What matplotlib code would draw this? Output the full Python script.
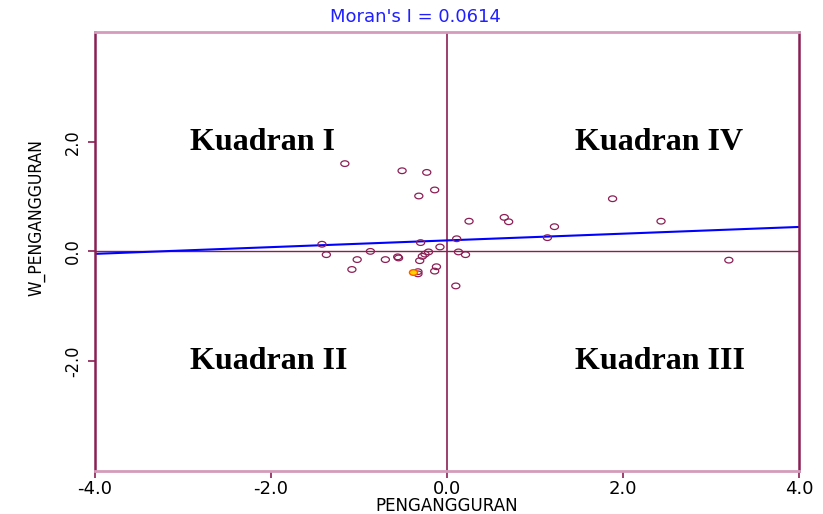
import numpy as np
from matplotlib import pyplot as plt
from matplotlib.path import Path

# standardized values
pengangguran = [-1.16, -0.51, -0.23, -0.14, -0.32, 0.25, -1.42, -1.37, -0.87, -1.02,
                -1.08, -0.70, -0.56, -0.55, -0.30, -0.08, -0.21, -0.25, -0.28, -0.31,
                -0.33, -0.33, -0.12, -0.14, 0.11, 0.13, 0.21, 0.10, 1.88, 2.43,
                3.20, 0.65, 0.70, 1.22, 1.14]
w_pengangguran = [1.60, 1.47, 1.44, 1.12, 1.01, 0.55, 0.13, -0.06, 0.00, -0.15,
                  -0.33, -0.15, -0.10, -0.12, 0.16, 0.08, -0.01, -0.05, -0.09, -0.17,
                  -0.37, -0.41, -0.28, -0.36, 0.23, -0.01, -0.06, -0.63, 0.96, 0.55,
                  -0.16, 0.62, 0.54, 0.45, 0.25]
selected_x = [-0.39]
selected_y = [-0.38]

moran_i = 0.0614
intercept = 0.20
quadrants = ["Kuadran I", "Kuadran IV", "Kuadran II", "Kuadran III"]
quad_x = [-2.92, 1.45, -2.92, 1.45]
quad_y = [1.98, 1.98, -2.0, -2.0]

maroon = '#8b1f55'
pink = '#d49cba'

# flat ellipse marker like GeoDa's
t = np.linspace(0, 2 * np.pi, 40)
ellipse = Path(np.column_stack([np.cos(t), 0.7 * np.sin(t)]), closed=True)

fig = plt.figure(figsize=(8.23, 5.14), dpi=100)
ax = fig.add_axes([0.1151, 0.0842, 0.8561, 0.8535])

ax.set_xlim(-4, 4)
ax.set_ylim(-4, 4)

ax.axhline(0, color=maroon, lw=1, zorder=1)
ax.axvline(0, color=maroon, lw=1.2, zorder=1)

xs = np.array([-4, 4])
ax.plot(xs, intercept + moran_i * xs, color='#0000ff', lw=1.5, zorder=2)

ax.scatter(pengangguran, w_pengangguran, marker=ellipse, s=34, facecolors='none',
           edgecolors=maroon, linewidths=0.9, zorder=3)
ax.scatter(selected_x, selected_y, marker=ellipse, s=34, facecolors='#ffd400',
           edgecolors='#ff5a00', linewidths=1.0, zorder=4)

for lab, qx, qy in zip(quadrants, quad_x, quad_y):
    ax.text(qx, qy, lab, family='Liberation Serif', fontweight='bold', fontsize=23,
            ha='left', va='center', color='black')

for side in ['left', 'right']:
    ax.spines[side].set_color(maroon)
    ax.spines[side].set_linewidth(1.8)
for side in ['top', 'bottom']:
    ax.spines[side].set_color(pink)
    ax.spines[side].set_linewidth(2)

ax.set_xticks([-4, -2, 0, 2, 4])
ax.set_xticklabels(['-4.0', '-2.0', '0.0', '2.0', '4.0'], fontsize=13)
ax.set_yticks([-2, 0, 2])
ax.set_yticklabels(['-2.0', '0.0', '2.0'], rotation=90, va='center',
                   family='DejaVu Sans', fontstretch='condensed', fontsize=13)
ax.tick_params(axis='both', color=maroon, length=5, width=1.2)
ax.tick_params(axis='x', pad=2)
ax.tick_params(axis='y', pad=4)

ax.set_xlabel('PENGANGGURAN', fontsize=12, labelpad=-1)
ax.set_ylabel('W_PENGANGGURAN', family='DejaVu Sans', fontstretch='condensed',
              fontsize=12.5)
ax.yaxis.set_label_coords(-0.0705, 0.578)

fig.text(415 / 823, 1 - 17 / 514, "Moran's I = 0.0614", color='#1f1fff',
         fontsize=13, ha='center', va='center')

fig.savefig('out.png', dpi=100)
